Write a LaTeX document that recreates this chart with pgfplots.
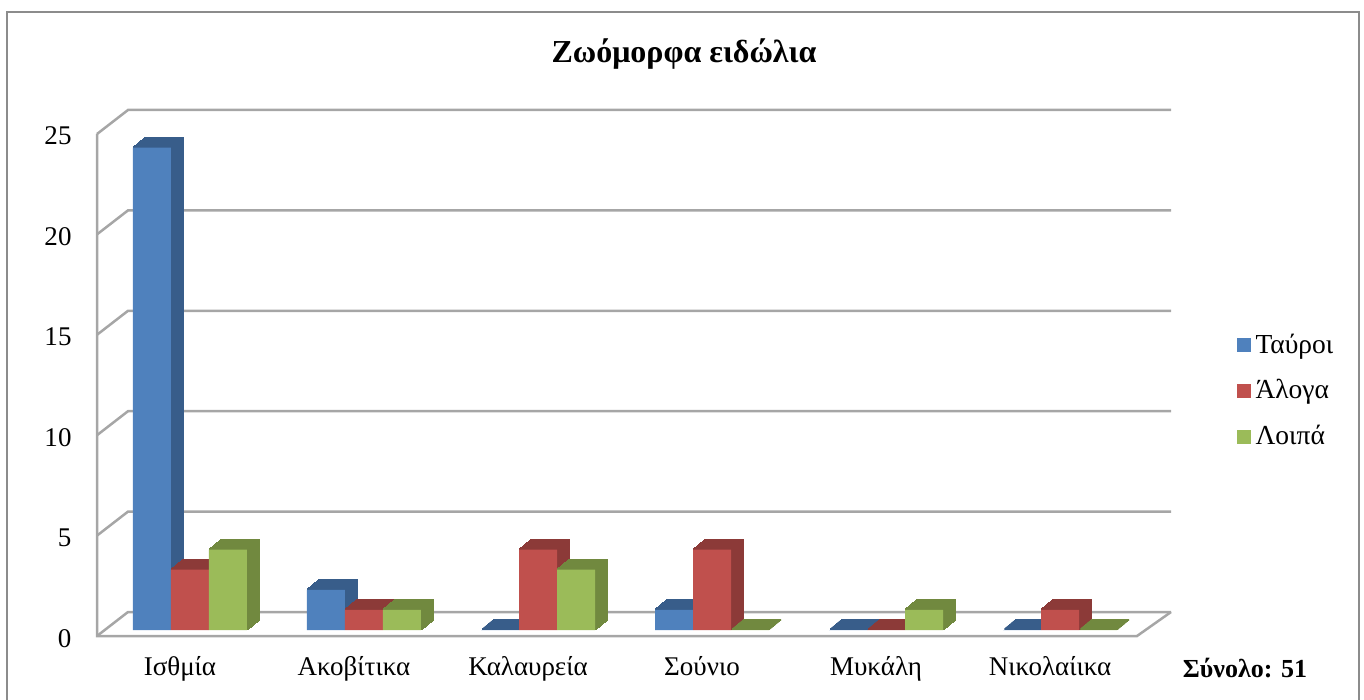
\documentclass[border=0pt]{standalone}
\usepackage{fontspec}
\setmainfont{Liberation Serif}
\usepackage{pgfplots}
\usepackage{pgfplotstable}
\pgfplotsset{compat=1.18}

\definecolor{tavroi}{HTML}{4F81BD}
\definecolor{aloga}{HTML}{C0504D}
\definecolor{loipa}{HTML}{9BBB59}
\definecolor{tavroiD}{HTML}{385D8A}
\definecolor{alogaD}{HTML}{8C3A38}
\definecolor{loipaD}{HTML}{71893F}
\definecolor{wall}{HTML}{A6A6A6}
\definecolor{frame}{HTML}{8C8C8C}

% Ταύροι, Άλογα, Λοιπά per site
\pgfplotstableread{
x t a l
0 24 3 4
1 2 1 1
2 0 4 3
3 1 4 0
4 0 0 1
5 0 1 0
}\data

\begin{document}
\begin{tikzpicture}
% pixel grid of the reference, axis south west at (112,630)
\begin{scope}[x=0.4pt, y=-0.4pt, shift={(-112,-630)}]
  \useasboundingbox (0,0) rectangle (1364,699);
  \draw[frame, line width=0.8pt] (7,720) -- (7,12) -- (1359,12) -- (1359,720);
  \foreach \v in {0,5,...,25}
    \draw[wall, line width=1pt] (97,{636-\v*20.08}) -- (128,{612-\v*20.08}) -- (1171,{612-\v*20.08});
  \draw[wall, line width=1pt] (97,134) -- (97,636) -- (1137,636) -- (1171,612);
\end{scope}

\begin{axis}[
  at={(0,0)}, anchor=south west,
  scale only axis,
  width=416.8pt, height=201pt,
  xmin=-0.448, xmax=5.54,
  ymin=0, ymax=25,
  clip=false,
  axis line style={draw=none},
  major tick length=0pt,
  xtick={0,...,5},
  xticklabels={Ισθμία,Ακοβίτικα,Καλαυρεία,Σούνιο,Μυκάλη,Νικολαίικα},
  ytick={0,5,...,25},
  tick label style={font=\fontsize{10.8}{13}\selectfont, inner sep=0pt},
  xticklabel style={anchor=base, yshift=-18pt, xshift=-4pt},
  yticklabel style={anchor=base east, xshift=-16pt, yshift=-6.9pt},
  /pgf/number format/assume math mode=true,
  legend style={at={(449.6pt,95.6pt)}, anchor=west, draw=none, fill=none,
    inner sep=0pt, row sep=5pt, font=\fontsize{11}{13}\selectfont},
  legend cell align=left,
  legend image code/.code={\fill[#1] (0pt,-2.8pt) rectangle (5.6pt,2.8pt);},
  bar width=15.2pt,
]
% blue
\pgfplotsinvokeforeach{1,...,10}{
  \addplot[ybar, bar shift=-15.2pt, fill=tavroiD, draw=tavroiD, line width=0.8pt,
    xshift=#1*0.48pt, yshift=#1*0.4pt, forget plot] table[x=x,y=t]{\data};
}
\addplot[ybar, bar shift=-15.2pt, fill=tavroi, draw=none] table[x=x,y=t]{\data};
\addlegendentry{Ταύροι}
% red
\pgfplotsinvokeforeach{1,...,10}{
  \addplot[ybar, bar shift=0pt, fill=alogaD, draw=alogaD, line width=0.8pt,
    xshift=#1*0.48pt, yshift=#1*0.4pt, forget plot] table[x=x,y=a]{\data};
}
\addplot[ybar, bar shift=0pt, fill=aloga, draw=none] table[x=x,y=a]{\data};
\addlegendentry{Άλογα}
% green
\pgfplotsinvokeforeach{1,...,10}{
  \addplot[ybar, bar shift=15.2pt, fill=loipaD, draw=loipaD, line width=0.8pt,
    xshift=#1*0.48pt, yshift=#1*0.4pt, forget plot] table[x=x,y=l]{\data};
}
\addplot[ybar, bar shift=15.2pt, fill=loipa, draw=none] table[x=x,y=l]{\data};
\addlegendentry{Λοιπά}
\end{axis}

\begin{scope}[x=0.4pt, y=-0.4pt, shift={(-112,-630)}]
  \node[anchor=base, inner sep=0pt, font=\bfseries\fontsize{12.8}{15}\selectfont] at (684,63) {Ζωόμορφα ειδώλια};
  \node[anchor=base, inner sep=0pt, font=\bfseries\fontsize{10.4}{12}\selectfont] at (1245,677) {Σύνολο: 51};
\end{scope}
\end{tikzpicture}
\end{document}
